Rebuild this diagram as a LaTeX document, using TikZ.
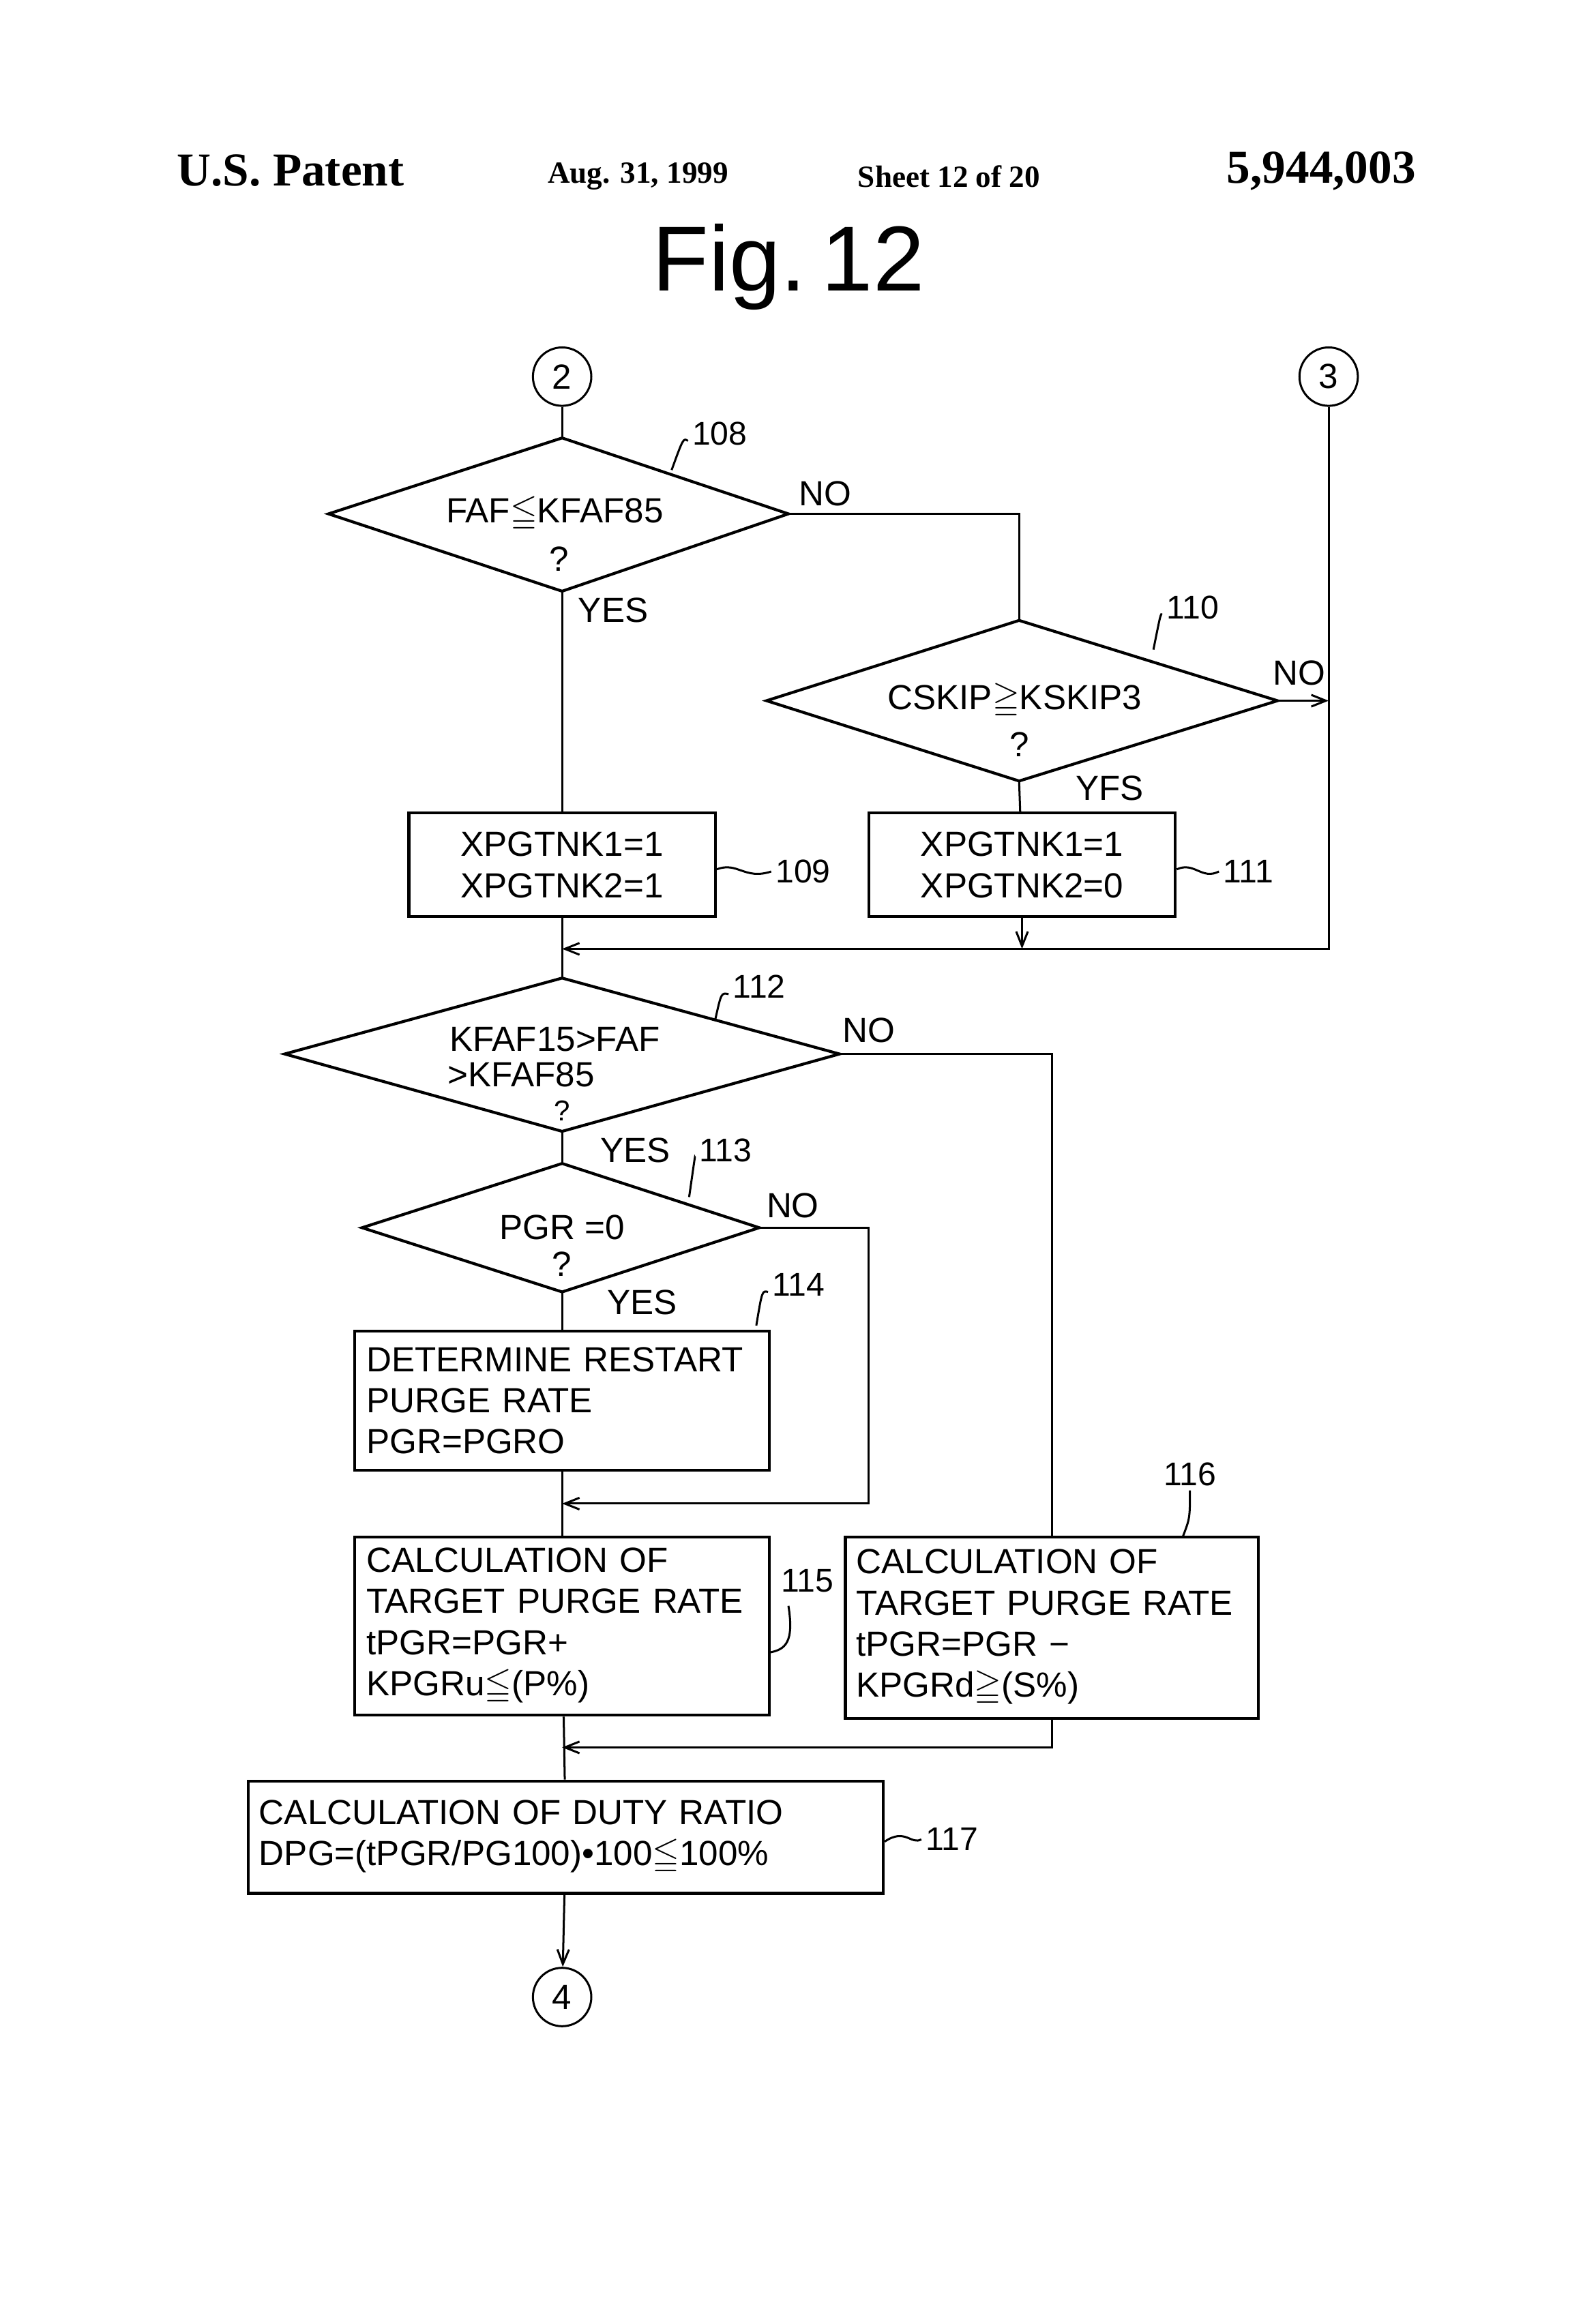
\documentclass[tikz,border=0pt]{standalone}
\usepackage{amssymb}
\usepackage{fontspec}
\setmainfont{Liberation Sans}
\newfontfamily\hdr{Liberation Serif}
\usetikzlibrary{arrows.meta}
\newcommand{\myle}{$\leqq$}
\newcommand{\myge}{$\geqq$}
\begin{document}
\begin{tikzpicture}[x=0.5mm,y=-0.5mm,line width=2pt,
  every node/.style={font=\fontsize{34}{40}\selectfont},
  box/.style={draw,line width=2.8pt,align=left,inner sep=0pt},
  dia/.style={draw,line width=2.8pt},
  lab/.style={font=\fontsize{32}{38}\selectfont},
  circ/.style={draw,circle,minimum size=20mm,inner sep=0pt,line width=2pt},
  arr/.style={-{Straight Barb[length=5mm,width=4mm]}}]
\useasboundingbox (0,0) rectangle (1084,1592);
% header
\node[font=\hdr\bfseries\fontsize{46}{50}\selectfont] (h1) at (199,117) {U.S. Patent};
\node[font=\hdr\bfseries\fontsize{30}{34}\selectfont] (h2) at (437,121) {Aug. 31, 1999};
\node[font=\hdr\bfseries\fontsize{30}{34}\selectfont] (h3) at (650,121) {Sheet 12 of 20};
\node[font=\hdr\bfseries\fontsize{46}{50}\selectfont] (h4) at (905,117) {5,944,003};
\node[font=\fontsize{90}{96}\selectfont] (fig) at (540,183) {Fig.\,12};
% connectors circles
\node[circ] (c2) at (385,258) {2};
\node[circ] (c3) at (910,258) {3};
\node[circ] (c4) at (385,1368) {4};
% diamond 108
\coordinate (d1t) at (385,300); \coordinate (d1r) at (540,352);
\coordinate (d1b) at (385,405); \coordinate (d1l) at (225,352);
\draw[dia] (d1t)--(d1r)--(d1b)--(d1l)--cycle;
\node (t108) at (380,352) {FAF\myle KFAF85};
\node (q108) at (383,383) {?};
\node[lab] (l108) at (493,297) {108};
\draw (l108.west) ++(0,5) .. controls (468,300) .. (460,322);
% diamond 110
\coordinate (d2t) at (698,425); \coordinate (d2r) at (875,480);
\coordinate (d2b) at (698,535); \coordinate (d2l) at (525,480);
\draw[dia] (d2t)--(d2r)--(d2b)--(d2l)--cycle;
\node (t110) at (695,480) {CSKIP\myge KSKIP3};
\node (q110) at (698,510) {?};
\node[lab] (l110) at (817,416) {110};
\draw (l110.west) ++(0,5) .. controls (795,420) .. (790,445);
% diamond 112
\coordinate (d3t) at (385,670); \coordinate (d3r) at (575,722);
\coordinate (d3b) at (385,775); \coordinate (d3l) at (195,722);
\draw[dia] (d3t)--(d3r)--(d3b)--(d3l)--cycle;
\node (t112a) at (380,712) {KFAF15>FAF};
\node (t112b) at (357,736) {>KFAF85};
\node[font=\fontsize{28}{32}\selectfont] (q112) at (385,761) {?};
\node[lab] (l112) at (520,676) {112};
\draw (l112.west) ++(0,5) .. controls (494,680) .. (490,698);
% diamond 113
\coordinate (d4t) at (385,797); \coordinate (d4r) at (520,841);
\coordinate (d4b) at (385,885); \coordinate (d4l) at (248,841);
\draw[dia] (d4t)--(d4r)--(d4b)--(d4l)--cycle;
\node (t113) at (385,841) {PGR =0};
\node (q113) at (385,866) {?};
\node[lab] (l113) at (497,788) {113};
\draw (l113.west) ++(0,5) .. controls (476,792) .. (472,820);
% boxes
\node[box,minimum width=105mm,minimum height=35.5mm,align=center] (b109) at (385,592.5) {XPGTNK1=1\\XPGTNK2=1};
\node[lab] (l109) at (550,597) {109};
\draw (b109.east) ++(0,3) .. controls (505,590) and (510,603) .. (l109.west);
\node[box,minimum width=105mm,minimum height=35.5mm,align=center] (b111) at (700,592.5) {XPGTNK1=1\\XPGTNK2=0};
\node[lab] (l111) at (855,597) {111};
\draw (b111.east) ++(0,3) .. controls (818,590) and (823,603) .. (l111.west);
\node[box,minimum width=142mm,minimum height=47.5mm,text width=134mm] (b114) at (385,959.5) {DETERMINE RESTART\\PURGE RATE\\PGR=PGRO};
\node[lab] (l114) at (547,880) {114};
\draw (l114.west) ++(0,5) .. controls (522,884) .. (518,908);
\node[box,minimum width=142mm,minimum height=61mm,text width=134mm] (b115) at (385,1114) {CALCULATION OF\\TARGET PURGE RATE\\tPGR=PGR+\\KPGRu\myle(P\%)};
\node[lab] (l115) at (553,1083) {115};
\draw (540,1100) .. controls (544,1125) and (538,1130) .. (527,1132);
\node[box,minimum width=141.5mm,minimum height=62mm,text width=134mm] (b116) at (720.5,1115) {CALCULATION OF\\TARGET PURGE RATE\\tPGR=PGR −\\KPGRd\myge(S\%)};
\node[lab] (l116) at (815,1010) {116};
\draw (l116.south) .. controls (815,1040) .. (810,1053);
\node[box,minimum width=217.5mm,minimum height=38.5mm,text width=210mm] (b117) at (387.5,1258.5) {CALCULATION OF DUTY RATIO\\DPG=(tPGR/PG100)•100\myle100\%};
\node[lab] (l117) at (652,1260) {117};
\draw (b117.east) ++(0,3) .. controls (620,1252) and (624,1264) .. (l117.west);
% labels
\node (yes108) at (420,418) {YES};
\node (no108) at (565,338) {NO};
\node (no110) at (890,461) {NO};
\node (yes110) at (760,540) {YFS};
\node (no112) at (595,706) {NO};
\node (yes112) at (435,788) {YES};
\node (no113) at (543,826) {NO};
\node (yes113) at (440,892) {YES};
% connectors
\coordinate (m1) at (385,650);
\coordinate (m2) at (385,1030);
\coordinate (m3) at (385,1197);
\draw (c2) -- (d1t);
\draw (d1r) -| (d2t);
\draw (d1b) -- (b109);
\draw[arr] (d2r) -- (910,480);
\draw (d2b) -- (b111);
\draw[arr] (c3) |- (m1);
\draw[arr] (b111.south) -- (700,650);
\draw (b109) -- (d3t);
\draw (d3r) -| (b116.north);
\draw (d3b) -- (d4t);
\draw (d4b) -- (b114);
\draw[arr] (d4r) -| (595,1030) -- (m2);
\draw (b114) -- (b115);
\draw (b115) -- (b117);
\draw[arr] (b116.south) |- (m3);
\draw[arr] (b117) -- (c4);
\end{tikzpicture}
\end{document}
